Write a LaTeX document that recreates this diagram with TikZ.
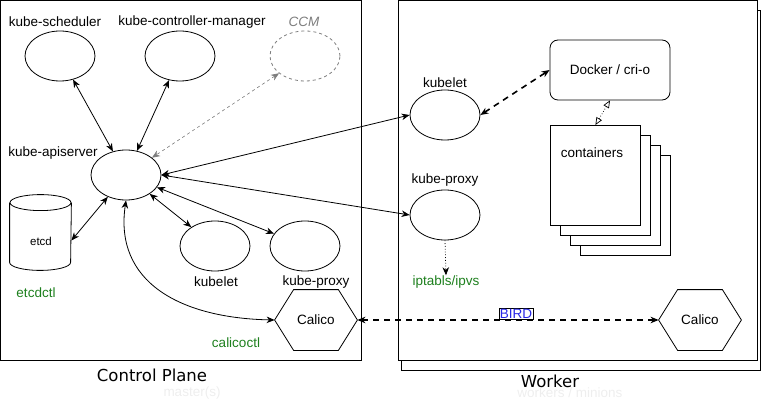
\documentclass[tikz,border=0pt]{standalone}
\usepackage{fontspec}
\setmainfont{Liberation Sans}
\newfontfamily\titlefont{DejaVu Sans}
\usepackage{tikz}
\usetikzlibrary{shapes.geometric, arrows}
\usetikzlibrary{calc}
\usetikzlibrary{positioning}
\usetikzlibrary{arrows.meta}
\definecolor{cligreen}{RGB}{30,128,30}
\definecolor{birdblue}{RGB}{40,40,230}
\definecolor{ccmgray}{RGB}{125,125,125}
\definecolor{faint}{RGB}{238,238,238}
\tikzstyle{comp} = [draw, ellipse, minimum width=70, minimum height=50, inner sep=0]
\tikzstyle{txt} = [inner sep=0, font=\fontsize{13.5}{16}\selectfont]
\tikzstyle{cli} = [txt, text=cligreen]
\tikzstyle{hexa} = [rectangle, minimum width=82, minimum height=60, inner sep=0, font=\fontsize{13.5}{16}\selectfont]
\tikzstyle{arrow} = [<->]
\tikzstyle{bgp} = [<->, line width=1.6pt, dash pattern=on 6pt off 5pt]
\newcommand{\drawhex}[1]{\draw ($(#1.west)$) -- ($(#1.north west)+(19,0)$) -- ($(#1.north east)+(-19,0)$) -- (#1.east) -- ($(#1.south east)+(-19,0)$) -- ($(#1.south west)+(19,0)$) -- cycle;}

\begin{document}
\begin{tikzpicture}[x=1pt,y=-1pt,line width=0.8pt,>={Stealth[length=8pt,width=6.5pt,inset=2.5pt]}]
\useasboundingbox (0,0) rectangle (761,401);

% Boxes
\draw (0.5,0.5) rectangle (361,360);
\draw (401,10) rectangle (760,370);
\draw[fill=white] (398,0.5) rectangle (757,360);
\node[font=\titlefont\fontsize{16.5}{18}\selectfont] (cptitle) at (152,375) {Control Plane};
\node[font=\titlefont\fontsize{16.5}{18}\selectfont] (wtitle) at (550,381) {Worker};
\node[txt, text=faint] (cpsub) at (192,393) {master(s)};
\node[txt, text=faint] (wsub) at (570,393) {workers / minions};

% Control plane nodes
\node[comp] (sched) at (60,56) {};
\node[comp] (ctrl) at (180,56) {};
\node[comp, dashed, draw=ccmgray] (ccm) at (305,56) {};
\node[comp] (api) at (126,175) {};
\node[minimum width=61, minimum height=75, inner sep=0] (etcd) at (40.5,232.5) {};
\draw ($(etcd.north west)+(0,8)$) -- ($(etcd.south west)+(0,-8)$) arc (180:0:30.5 and 8) -- ($(etcd.north east)+(0,8)$);
\draw ($(etcd.north)+(0,8)$) ellipse (30.5 and 8);
\node[txt, font=\fontsize{11.5}{13}\selectfont] (etcdlbl) at (41,241) {etcd};
\node[comp] (kubelet) at (215,246) {};
\node[comp] (proxy) at (305,246) {};
\node[hexa] (cpcalico) at (316,320) {Calico};
\drawhex{cpcalico}

\node[txt] (schedlbl) at (55,22) {kube-scheduler};
\node[txt] (ctrllbl) at (192,22) {kube-controller-manager};
\node[txt, text=ccmgray, font=\itshape\fontsize{13.5}{16}\selectfont] (ccmlbl) at (304,22) {CCM};
\node[txt] (apilbl) at (53,153) {kube-apiserver};
\node[cli] (etcdctl) at (36,293) {etcdctl};
\node[txt] (kubeletlbl) at (216,282) {kubelet};
\node[txt] (proxylbl) at (316,282) {kube-proxy};
\node[cli] (calicoctl) at (236,343) {calicoctl};

% Worker nodes
\node[comp] (wkubelet) at (445,115) {};
\node[comp] (wproxy) at (445,215) {};
\node[draw, rounded corners=8, minimum width=120, minimum height=60, txt] (docker) at (610,70) {Docker / cri-o};
\foreach \d in {30,20,10}
  \draw[fill=white] (550+\d,125+\d) rectangle ++(90,100);
\node[draw, fill=white, minimum width=90, minimum height=100, anchor=north west] (cont) at (550,125) {};
\node[txt] (contlbl) at (592,153) {containers};
\node[hexa] (wcalico) at (700,320) {Calico};
\drawhex{wcalico}

\node[txt] (wkubeletlbl) at (445,83) {kubelet};
\node[txt] (wproxylbl) at (445,180) {kube-proxy};
\node[cli] (iptables) at (446,282) {iptabls/ipvs};

% Edges
\draw[arrow] (sched) -- (api);
\draw[arrow] (ctrl) -- (api);
\draw[arrow, dashed, draw=ccmgray, line width=0.6pt] (ccm) -- (api);
\draw[arrow] (api) -- ($(etcd.east)+(0,8)$);
\draw[arrow] (api) -- (kubelet);
\draw[arrow] (api) -- (proxy);
\draw[arrow] (api.south) .. controls (114,282) and (180,318) .. (cpcalico.west);
\draw[arrow] (api.east) -- (wkubelet.west);
\draw[arrow] (api.east) -- (wproxy.west);
\draw[bgp] (wkubelet.east) -- (docker.west);
\draw[open triangle 45-open triangle 45, dotted, line width=0.7pt] (docker.south) -- (cont.north);
\draw[->, dotted, line width=0.8pt] (wproxy.south) -- (iptables.north);
\draw[bgp] (cpcalico.east) -- (wcalico.west);
\node[draw, fill=white, inner sep=1pt, line width=0.6pt, text=birdblue, font=\fontsize{13.5}{16}\selectfont, anchor=south] (bird) at (516,320) {BIRD};

\end{tikzpicture}
\end{document}
